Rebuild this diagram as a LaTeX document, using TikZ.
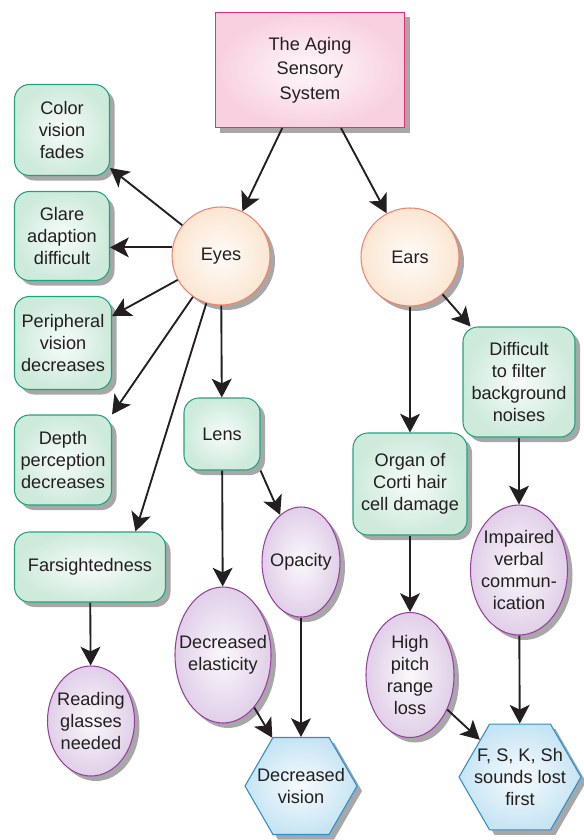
\documentclass[tikz,border=0pt]{standalone}
\usepackage{fontspec}
\setmainfont{Liberation Sans}
\usetikzlibrary{arrows.meta, shapes.geometric, shadows}
\definecolor{ageInk}{HTML}{231F20}
\definecolor{ageShade}{HTML}{A7A7A7}
\definecolor{ageRose}{HTML}{F8D0E0}
\definecolor{agePink}{HTML}{E2307C}
\definecolor{ageMint}{HTML}{CDEADB}
\definecolor{ageGreen}{HTML}{1FA37E}
\definecolor{agePeach}{HTML}{FBE6D2}
\definecolor{ageCoral}{HTML}{EF826A}
\definecolor{ageLilac}{HTML}{E0CFE8}
\definecolor{agePurple}{HTML}{9A3FA0}
\definecolor{ageSky}{HTML}{C6E4F4}
\definecolor{ageBlue}{HTML}{2B8ED0}

\begin{document}
\begin{tikzpicture}[x=0.03cm, y=-0.03cm,
      base/.style={line width=0.9pt, font=\fontsize{15.5}{19}\selectfont,
                   text=ageInk, align=center, inner sep=0pt,
                   drop shadow={shadow xshift=0.15cm, shadow yshift=-0.15cm,
                                fill=ageShade, opacity=1}},
      glow/.style={path picture={\shade[inner color=white!85!#1, outer color=#1]
                   (path picture bounding box.south west) rectangle
                   (path picture bounding box.north east);}},
      txt/.style={font=\fontsize{15.5}{19}\selectfont, text=ageInk,
                  align=center, inner sep=0pt},
      title/.style={base, rectangle, draw=agePink, fill=ageRose, glow=ageRose,
                    minimum width=5.67cm, minimum height=3.45cm,
                    font=\fontsize{15.5}{21}\selectfont},
      sqbox/.style={base, rectangle, rounded corners=0.45cm, draw=ageGreen,
                    fill=ageMint, glow=ageMint},
      orb/.style={base, circle, draw=ageCoral, fill=agePeach, glow=agePeach,
                  minimum size=2.94cm},
      oval/.style={base, ellipse, draw=agePurple, fill=ageLilac, glow=ageLilac},
      hexa/.style={base, regular polygon, regular polygon sides=6,
                   draw=ageBlue, fill=ageSky, glow=ageSky},
      arr/.style={-{Stealth[length=16pt, width=17pt, inset=4pt]}, line width=1.6pt, ageInk}
    ]
    \useasboundingbox (0,0) rectangle (583,840);
    % top
    \node[title] (aging) at (310,70) {The Aging\\Sensory\\System};
    \node[orb] (eyes) at (221,256) {Eyes};
    \node[orb] (ears) at (410,257) {Ears};
    % eyes branch
    \node[sqbox, minimum width=2.85cm, minimum height=2.73cm] (color) at (62,130) {Color\\vision\\fades};
    \node[sqbox, minimum width=2.85cm, minimum height=2.67cm] (glare) at (62,236) {Glare\\adaption\\difficult};
    \node[sqbox, minimum width=2.91cm, minimum height=2.79cm] (periph) at (63,343) {Peripheral\\vision\\decreases};
    \node[sqbox, minimum width=2.91cm, minimum height=2.7cm] (depth) at (63,460) {Depth\\perception\\decreases};
    \node[sqbox, minimum width=4.53cm, minimum height=2.1cm] (farsight) at (90,567) {Farsightedness};
    \node[oval, minimum width=2.61cm, minimum height=3.3cm,
          label={[txt]center:{Reading\\glasses\\needed}}] (reading) at (91,721) {};
    \node[sqbox, minimum width=2.28cm, minimum height=2.16cm] (lens) at (222,434) {Lens};
    \node[oval, minimum width=2.34cm, minimum height=3.3cm,
          label={[txt]center:{Opacity}}] (opacity) at (301,562) {};
    \node[oval, minimum width=2.88cm, minimum height=4.08cm,
          label={[txt]center:{Decreased\\elasticity}}] (elastic) at (223,655) {};
    \node[hexa, minimum size=3.36cm,
          label={[txt]center:{Decreased\\vision}}] (decvision) at (301,786) {};
    % ears branch
    \node[sqbox, minimum width=3.36cm, minimum height=3.3cm] (noise) at (519,382) {Difficult\\to filter\\background\\noises};
    \node[sqbox, minimum width=3.42cm, minimum height=3.06cm] (corti) at (410,484) {Organ of\\Corti hair\\cell damage};
    \node[oval, minimum width=2.91cm, minimum height=3.9cm,
          label={[txt]center:{Impaired\\verbal\\commun-\\ication}}] (verbal) at (519,570) {};
    \node[oval, minimum width=2.64cm, minimum height=3.75cm,
          label={[txt]center:{High\\pitch\\range\\loss}}] (pitch) at (410,675) {};
    \node[hexa, minimum size=3.66cm,
          label={[txt]center:{F, S, K, Sh\\sounds lost\\first}}] (sounds) at (520,777) {};

    \draw[arr] (aging) -- (eyes);
    \draw[arr] (aging) -- (ears);
    \draw[arr] (eyes) -- (color);
    \draw[arr] (eyes.170) -- (eyes.170 -| glare.east);
    \draw[arr] (eyes) -- (periph);
    \draw[arr] (eyes) -- (depth.north east);
    \draw[arr] (eyes) -- (farsight.38);
    \draw[arr] (eyes) -- (lens);
    \draw[arr] (farsight) -- (reading);
    \draw[arr] (lens.south east) -- (opacity);
    \draw[arr] (lens) -- (elastic);
    \draw[arr] (elastic) -- (decvision);
    \draw[arr] (opacity) -- (decvision);
    \draw[arr] (ears) -- (noise);
    \draw[arr] (ears) -- (corti);
    \draw[arr] (noise) -- (verbal);
    \draw[arr] (corti) -- (pitch);
    \draw[arr] (pitch) -- (sounds);
    \draw[arr] (verbal) -- (sounds);
  \end{tikzpicture}
\end{document}
